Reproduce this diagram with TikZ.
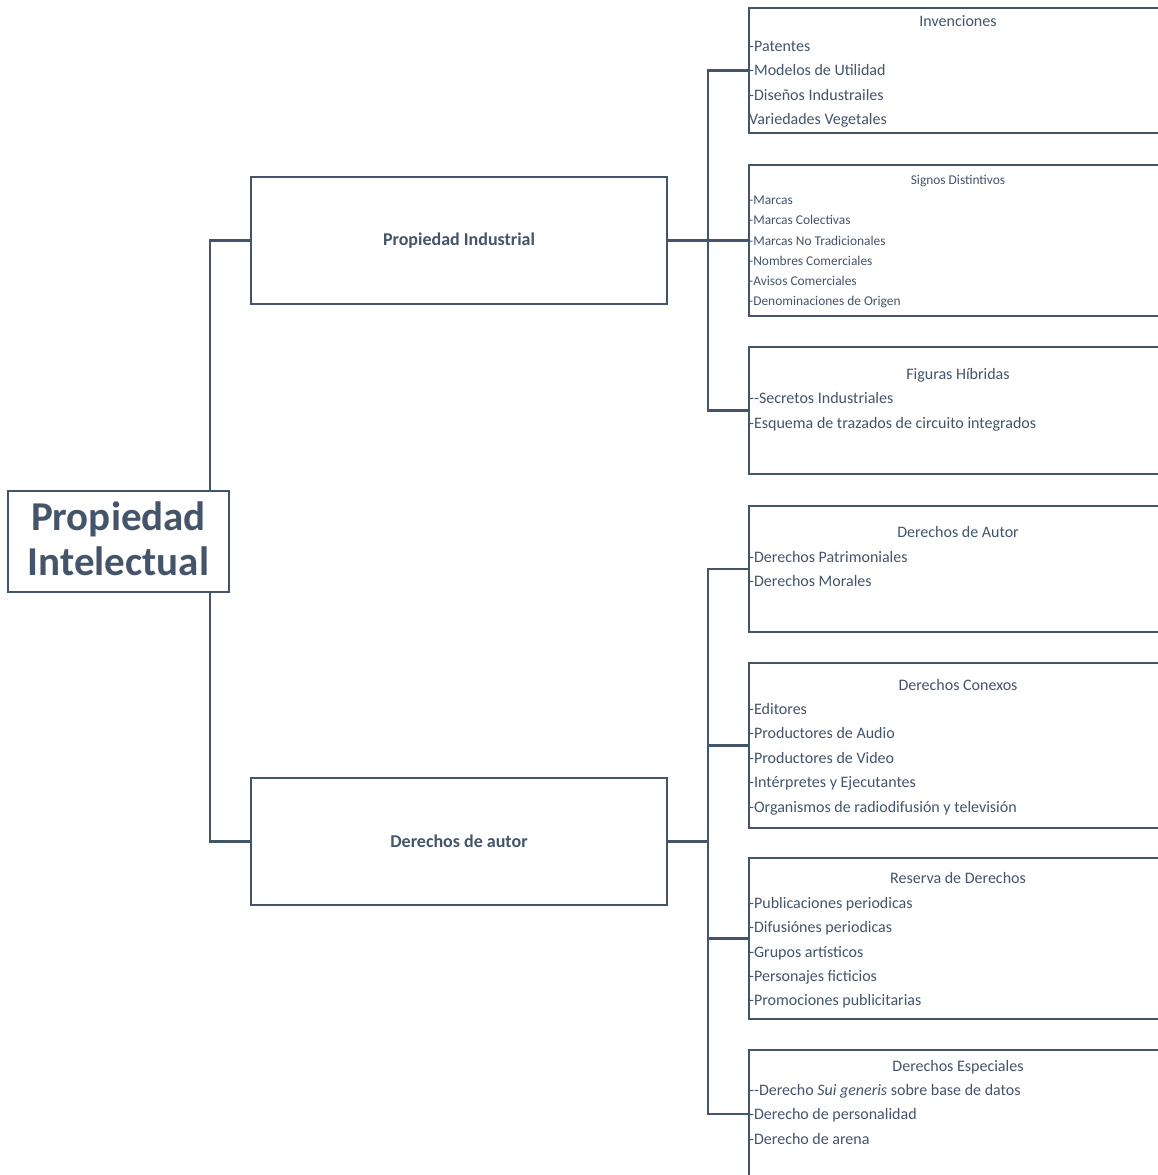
\documentclass[tikz,border=0pt]{standalone}
\usepackage{fontspec}
\setmainfont{Carlito}
\definecolor{slate}{HTML}{44546A}
\begin{document}
\begin{tikzpicture}[x=1pt,y=-1pt,
  box/.style={draw=slate, line width=2.9pt, inner sep=0pt, outer sep=0pt, rectangle, fill=white},
  conn/.style={draw=slate, line width=2.9pt},
  itm/.style={anchor=base west, inner sep=0pt, text=slate, font=\fontsize{16}{19}\selectfont},
  sitm/.style={itm, font=\fontsize{13.4}{16}\selectfont},
  ttl/.style={anchor=base, inner sep=0pt, text=slate, font=\fontsize{16}{19}\selectfont},
  sttl/.style={ttl, font=\fontsize{13.4}{16}\selectfont},
  big/.style={anchor=base, inner sep=0pt, text=slate, font=\bfseries\fontsize{41}{45}\selectfont},
  mid/.style={text=slate, font=\bfseries\fontsize{18}{22}\selectfont},
]
\useasboundingbox (0,0) rectangle (1158,1175);
\clip (0,0) rectangle (1158,1175);

% main boxes
\node[box, minimum width=221pt, minimum height=101pt] (root) at (118.5,541.5) {};
\node[big] (rootA) at (118.5,530) {Propiedad};
\node[big] (rootB) at (118.5,575) {Intelectual};

\node[box, minimum width=416pt, minimum height=127pt, mid] (pi) at (459,240.5) {Propiedad Industrial};
\node[box, minimum width=416pt, minimum height=127pt, mid] (da) at (459,841.5) {Derechos de autor};

% right boxes
\node[box, minimum width=418pt, minimum height=125pt] (inv) at (958,70.5) {};
\node[box, minimum width=418pt, minimum height=151pt] (sig) at (958,240.5) {};
\node[box, minimum width=418pt, minimum height=127pt] (fig) at (958,410.5) {};
\node[box, minimum width=418pt, minimum height=126pt] (aut) at (958,569) {};
\node[box, minimum width=418pt, minimum height=165pt] (con) at (958,745.5) {};
\node[box, minimum width=418pt, minimum height=161pt] (res) at (958,938.5) {};
\node[box, minimum width=418pt, minimum height=128pt] (esp) at (958,1114) {};

% connectors
\draw[conn] (pi.west) -| ([xshift=91.5pt]root.north);
\draw[conn] (da.west) -| ([xshift=91.5pt]root.south);
\draw[conn] (inv.west) -- ++(-41,0) |- (fig.west);
\draw[conn] (pi.east) -- (sig.west);
\draw[conn] (aut.west) -- ++(-41,0) |- (esp.west);
\draw[conn] (con.west) -- ++(-41,0);
\draw[conn] (res.west) -- ++(-41,0);
\draw[conn] (da.east) -- ++(41,0);

% Invenciones
\node[ttl] (invT) at (958,27) {Invenciones};
\node[itm] (inv1) at (749,51) {-Patentes};
\node[itm] (inv2) at (749,75.5) {-Modelos de Utilidad};
\node[itm] (inv3) at (749,100) {-Diseños Industrailes};
\node[itm] (inv4) at (749,124.5) {Variedades Vegetales};

% Signos Distintivos
\node[sttl] (sigT) at (958,184.5) {Signos Distintivos};
\node[sitm] (sig1) at (749,204.7) {-Marcas};
\node[sitm] (sig2) at (749,224.9) {-Marcas Colectivas};
\node[sitm] (sig3) at (749,245.1) {-Marcas No Tradicionales};
\node[sitm] (sig4) at (749,265.3) {-Nombres Comerciales};
\node[sitm] (sig5) at (749,285.5) {-Avisos Comerciales};
\node[sitm] (sig6) at (749,305.7) {-Denominaciones de Origen};

% Figuras Hibridas
\node[ttl] (figT) at (958,379.5) {Figuras Híbridas};
\node[itm] (fig1) at (749,403.5) {-{}-Secretos Industriales};
\node[itm] (fig2) at (749,428.5) {-Esquema de trazados de circuito integrados};

% Derechos de Autor
\node[ttl] (autT) at (958,537.5) {Derechos de Autor};
\node[itm] (aut1) at (749,562) {-Derechos Patrimoniales};
\node[itm] (aut2) at (749,586.5) {-Derechos Morales};

% Derechos Conexos
\node[ttl] (conT) at (958,690.5) {Derechos Conexos};
\node[itm] (con1) at (749,714.5) {-Editores};
\node[itm] (con2) at (749,738.5) {-Productores de Audio};
\node[itm] (con3) at (749,763.5) {-Productores de Video};
\node[itm] (con4) at (749,787.5) {-Intérpretes y Ejecutantes};
\node[itm] (con5) at (749,812) {-Organismos de radiodifusión y televisión};

% Reserva de Derechos
\node[ttl] (resT) at (958,883.5) {Reserva de Derechos};
\node[itm] (res1) at (749,908) {-Publicaciones periodicas};
\node[itm] (res2) at (749,932.5) {-Difusiónes periodicas};
\node[itm] (res3) at (749,957) {-Grupos artísticos};
\node[itm] (res4) at (749,981.5) {-Personajes ficticios};
\node[itm] (res5) at (749,1005.5) {-Promociones publicitarias};

% Derechos Especiales
\node[ttl] (espT) at (958,1071.5) {Derechos Especiales};
\node[itm] (esp1) at (749,1095.5) {-{}-Derecho \textit{Sui generis} sobre base de datos};
\node[itm] (esp2) at (749,1119.5) {-Derecho de personalidad};
\node[itm] (esp3) at (749,1144) {-Derecho de arena};
\end{tikzpicture}
\end{document}
